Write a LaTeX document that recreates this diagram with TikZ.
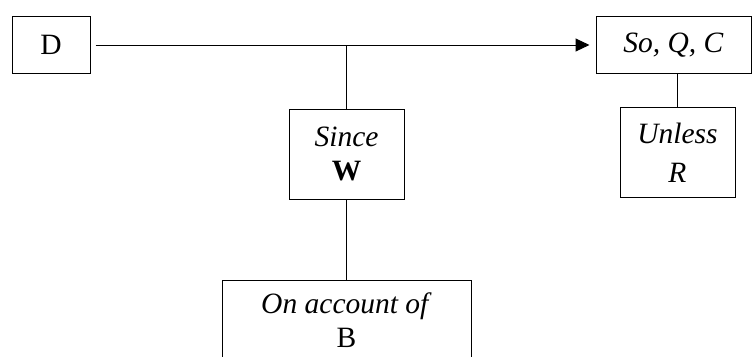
\documentclass[tikz,border=0pt]{standalone}
\usepackage{fontspec}
\setmainfont{Liberation Serif}
\usetikzlibrary{arrows.meta, positioning}

\begin{document}
\begin{tikzpicture}[
    x=1pt, y=-1pt,
    node distance=33pt and 40pt,
    part/.style={rectangle, draw, line width=1pt, inner sep=0pt, align=center, font=\fontsize{29.5}{34}\selectfont},
    arrow/.style={line width=1pt,-{Triangle[length=14pt,width=13pt]}},
    link/.style={line width=1pt}
]
\useasboundingbox (0,0) rectangle (752,356);
\clip (0,0) rectangle (752,356);

\node[part, minimum width=78pt, minimum height=57pt] (data) at (51,45) {D};
\node[part, minimum width=155pt, minimum height=57pt] (claim) at (673.5,45) {\textit{So, Q, C}};
\node[part, minimum width=115pt, minimum height=90pt] (warrant) at (346.5,154) {\textit{Since}\\\textbf{W}};
\node[part, minimum width=115pt, minimum height=90pt, below=33pt of claim, xshift=4pt] (rebuttal) {\textit{Unless}\\[5pt]\textit{R}};
\node[part, minimum width=249pt, minimum height=80pt, below=80pt of warrant] (backing) {\textit{On account of}\\B};

\coordinate (joint) at (warrant.north |- data.east);

\draw[arrow, shorten <=5pt, shorten >=6pt] (data) -- (claim);
\draw[link] (joint) -- (warrant);
\draw[link] (warrant) -- (backing);
\draw[link] (claim.south -| rebuttal.north) -- (rebuttal);

\end{tikzpicture}
\end{document}
